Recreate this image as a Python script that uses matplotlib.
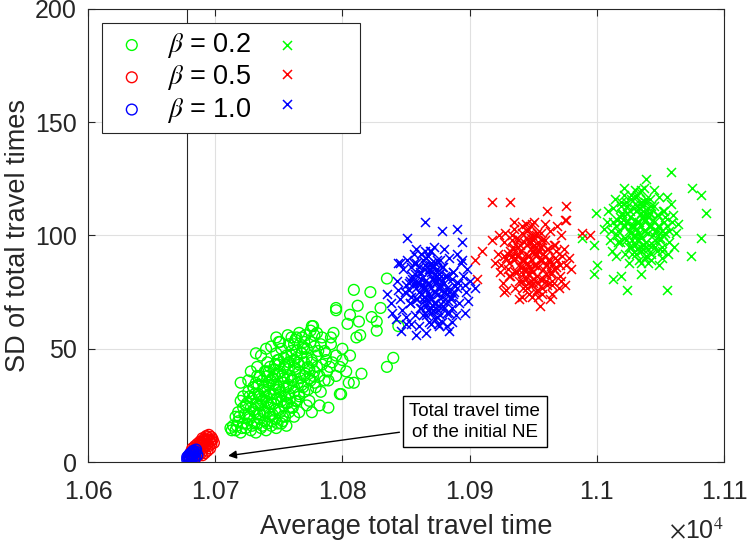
import matplotlib.pyplot as plt
from matplotlib.ticker import FuncFormatter

# beta = 0.2, circles
g_o_x = [10716, 10720, 10724, 10728, 10732, 10736, 10740, 10744, 10748, 10718, 10722, 10727, 10731, 10735, 10739, 10743, 10747, 10752, 10756, 10714,
         10718, 10722, 10726, 10730, 10734, 10738, 10742, 10746, 10750, 10754, 10758, 10762, 10720, 10725, 10729, 10733, 10737, 10741, 10745, 10749, 10753, 10757, 10761, 10766,
         10726, 10730, 10734, 10738, 10742, 10746, 10750, 10754, 10758, 10762, 10766, 10770, 10774, 10732, 10736, 10740, 10744, 10748, 10752, 10756, 10760, 10764, 10768, 10772, 10722,
         10735, 10739, 10743, 10747, 10751, 10755, 10759, 10763, 10767, 10771, 10775, 10779, 10741, 10749, 10757, 10765, 10773, 10777, 10783, 10733, 10745,
         10748, 10752, 10756, 10760, 10764, 10768, 10772, 10776, 10780, 10784, 10762, 10770, 10778, 10786, 10744, 10788, 10792,
         10740, 10748, 10757, 10766, 10775, 10784, 10791, 10795, 10798, 10789, 10782, 10776, 10728, 10720, 10732,
         10736, 10751, 10776, 10778, 10791, 10789, 10798, 10713,
         10835, 10809, 10822, 10812, 10795, 10795, 10806, 10830, 10823, 10827, 10813, 10804, 10827, 10814, 10811, 10777, 10780, 10760, 10844, 10840, 10835,
         10750, 10809, 10815, 10805, 10799, 10790, 10795, 10800, 10787, 10803, 10770, 10783, 10793, 10800, 10806, 10768,
         10717, 10721, 10725, 10729, 10733, 10737, 10741, 10745, 10749, 10753, 10719, 10723, 10727, 10731, 10735, 10739, 10743, 10747, 10751, 10755,
         10724, 10728, 10732, 10736, 10740, 10744, 10748, 10752, 10756, 10760, 10727, 10731, 10735, 10739, 10743, 10747, 10751, 10755, 10759, 10763,
         10730, 10734, 10738, 10742, 10746, 10750, 10754, 10758, 10762, 10766, 10737, 10741, 10745, 10749, 10753, 10757, 10761, 10765, 10769, 10773,
         10742, 10746, 10750, 10754, 10758, 10762, 10766, 10770, 10774, 10778, 10750, 10754, 10758, 10762, 10766, 10770, 10774, 10778, 10782, 10786,
         10760, 10764, 10768, 10772, 10776, 10780, 10758, 10763, 10769, 10775, 10781, 10787, 10726, 10733, 10740, 10747, 10764, 10771, 10712, 10716]
g_o_y = [14, 13, 15, 14, 13, 15, 14, 16, 15, 18, 17, 19, 17, 19, 18, 20, 19, 17, 16, 16,
         22, 24, 21, 23, 25, 22, 24, 26, 23, 25, 22, 20, 27, 26, 28, 21, 27, 26, 21, 28, 20, 26, 24, 22,
         31, 33, 30, 32, 34, 30, 32, 35, 30, 33, 29, 31, 27, 35, 28, 29, 36, 34, 29, 33, 36, 27, 34, 25, 29,
         38, 40, 42, 38, 40, 43, 38, 41, 37, 39, 36, 33, 44, 45, 41, 44, 42, 38, 31, 42, 37,
         48, 50, 47, 49, 46, 48, 50, 45, 47, 43, 52, 53, 51, 49, 51, 40, 44,
         50, 55, 56, 57, 58, 55, 52, 47, 42, 36, 25, 22, 40, 35, 48,
         47, 53, 60, 56, 55, 24, 30, 14,
         81, 76, 75, 69, 68, 67, 65, 68, 64, 62, 62, 61, 58, 56, 55, 60, 57, 55, 60, 46, 42,
         53, 35, 39, 35, 30, 42, 38, 45, 48, 40, 50, 52, 57, 50, 47, 55,
         16, 15, 17, 16, 17, 16, 17, 18, 17, 18, 20, 21, 20, 22, 21, 22, 21, 23, 22, 20,
         25, 24, 26, 25, 27, 26, 28, 27, 26, 24, 29, 30, 29, 31, 30, 32, 31, 29, 28, 27,
         33, 34, 33, 35, 34, 33, 37, 34, 31, 30, 36, 38, 37, 39, 38, 37, 36, 35, 33, 32,
         40, 41, 43, 42, 44, 42, 40, 38, 37, 35, 45, 46, 44, 45, 43, 44, 41, 40, 38, 36,
         47, 49, 48, 46, 44, 42, 52, 54, 51, 53, 49, 45, 36, 38, 40, 43, 55, 56, 15, 20]

# beta = 0.5, circles
r_o_x = [10680, 10681, 10682, 10683, 10684, 10685, 10686, 10687, 10688, 10689, 10690, 10691, 10692, 10693, 10694, 10695, 10696, 10697, 10694, 10691,
         10688, 10686, 10684, 10682, 10690, 10692, 10694, 10696, 10697, 10689, 10687, 10685, 10683, 10693, 10695, 10690, 10698, 10686, 10688, 10692,
         10681, 10683, 10685, 10687, 10689, 10691, 10693, 10695, 10697, 10699]
r_o_y = [2, 3, 2.5, 4, 3, 5, 4, 6, 5, 7, 6, 8, 7, 9, 8, 10, 9, 11, 11, 10,
         9, 8, 7, 6, 3, 4, 5, 6, 8, 4, 3, 2, 1.5, 11.5, 12, 10.5, 10, 6, 7.5, 9.5,
         4.5, 5.5, 6.5, 7.5, 8.5, 9, 10, 7, 9.5, 8.5]

# beta = 1.0, circles
b_o_x = [10678, 10679, 10680, 10681, 10682, 10683, 10684, 10685, 10680, 10682, 10684, 10679, 10681, 10683, 10686, 10685, 10678, 10682, 10680, 10684]
b_o_y = [1, 1.5, 2, 2.5, 3, 3.5, 4, 4.5, 1, 1.8, 2.5, 2.8, 3.8, 5, 3, 5.5, 2.2, 4.5, 3.5, 1.5]

# beta = 0.2, crosses
g_x_x = [11035, 11030, 11040, 11025, 11045, 11033, 11037, 11020, 11050, 11027, 11043, 11015, 11055, 11031, 11039, 11023, 11047, 11010, 11060, 11036,
         11029, 11041, 11024, 11046, 11032, 11038, 11018, 11052, 11026, 11044, 11034, 11022, 11049, 11013, 11057, 11028, 11042, 11031, 11039, 11035,
         11035, 11017, 11053, 11021, 11051, 11008, 11062, 11033, 11037, 11025, 11045, 11012, 11058, 11030, 11040, 11023, 11047, 11019, 11051, 11027,
         11043, 11015, 11055, 11009, 11061, 11038, 11032, 11036, 11034, 11048, 11022,
         11058, 11075, 11082, 11086, 11039, 11024, 11055, 11013, 10998, 11000, 10998, 10999, 11082, 11074, 10988, 11035, 11019,
         11028, 11042, 11033, 11037, 11021, 11049, 11030, 11040, 11026, 11044, 11016, 11054, 11035, 11035, 11024, 11046, 11019, 11051, 11031, 11039,
         11029, 11041, 11013, 11057, 11034, 11036, 11022, 11048, 11027, 11043, 11032, 11038, 11018, 11052, 11025, 11045, 11011, 11059, 11030, 11040,
         11036, 11034, 11020, 11050, 11028, 11042, 11014, 11056, 11033, 11037, 11023, 11047, 11026, 11044, 11017, 11053, 11031, 11039, 11029, 11041,
         11006, 11064, 11021, 11049, 11035, 11035, 11027, 11043, 11038, 11032, 11016, 11054, 11024, 11046, 11030, 11040, 11019, 11051, 11034, 11036]
g_x_y = [104, 107, 101, 102, 106, 112, 96, 109, 99, 95, 113, 104, 104, 117, 91, 115, 93, 98, 109, 108,
         100, 110, 106, 102, 94, 115, 97, 111, 111, 96, 119, 92, 117, 112, 97, 104, 104, 103, 107, 99,
         110, 102, 106, 118, 90, 106, 101, 89, 121, 88, 120, 93, 114, 114, 94, 98, 109, 113, 95, 118,
         89, 91, 117, 111, 95, 102, 106, 113, 95, 104, 104,
         128, 121, 118, 110, 125, 76, 76, 81, 83, 87, 96, 110, 99, 91, 99, 83, 82,
         98, 110, 101, 107, 104, 104, 96, 112, 108, 100, 100, 108, 93, 115, 110, 98, 115, 93, 111, 97,
         104, 104, 106, 102, 100, 108, 99, 109, 116, 92, 118, 90, 108, 100, 95, 113, 102, 106, 120, 88,
         96, 112, 110, 98, 92, 116, 116, 92, 106, 102, 106, 102, 101, 107, 97, 111, 92, 116, 112, 96,
         103, 105, 121, 87, 88, 120, 104, 104, 110, 98, 107, 101, 113, 95, 100, 108, 106, 102, 114, 94]

# beta = 0.5, crosses
r_x_x = [10949, 10944, 10954, 10939, 10959, 10947, 10951, 10934, 10964, 10941, 10957, 10929, 10969, 10945, 10953, 10937, 10961, 10924, 10974, 10950,
         10943, 10955, 10938, 10960, 10946, 10952, 10932, 10966, 10940, 10958, 10948, 10936, 10963, 10927, 10971, 10942, 10956, 10945, 10953, 10949,
         10949, 10931, 10967, 10935, 10965, 10922, 10976, 10947, 10951, 10939, 10959, 10926, 10972, 10944, 10954, 10937, 10961, 10933, 10965, 10941,
         10957, 10929, 10969, 10923, 10975, 10952, 10946, 10950, 10948, 10962, 10936,
         10918, 10932, 10976, 10961, 10975, 10988, 10918, 10910, 10904, 10906, 10955, 10941, 10927, 10980, 10995, 10976, 10972,
         10942, 10956, 10947, 10951, 10935, 10963, 10944, 10954, 10940, 10958, 10930, 10968, 10949, 10949, 10938, 10960, 10933, 10965, 10945, 10953,
         10943, 10955, 10927, 10971, 10948, 10950, 10936, 10962, 10941, 10957, 10946, 10952, 10932, 10966, 10939, 10959, 10925, 10973, 10944, 10954,
         10950, 10948, 10934, 10964, 10942, 10956, 10928, 10970, 10947, 10951, 10937, 10961, 10940, 10958, 10931, 10967, 10945, 10953, 10943, 10955,
         10920, 10978, 10935, 10963, 10949, 10949, 10941, 10957, 10952, 10946, 10930, 10968, 10938, 10960, 10944, 10954, 10933, 10965, 10948, 10950]
r_x_y = [89, 92, 86, 87, 91, 97, 81, 94, 84, 80, 98, 90, 89, 102, 76, 99, 78, 84, 94, 93,
         85, 95, 91, 87, 79, 100, 82, 96, 96, 81, 104, 77, 102, 97, 82, 89, 89, 88, 92, 84,
         95, 88, 90, 103, 74, 92, 87, 74, 106, 72, 105, 79, 100, 99, 79, 84, 94, 98, 80, 104,
         74, 76, 104, 100, 78, 87, 91, 98, 80, 89, 90,
         115, 115, 113, 111, 107, 101, 98, 93, 89, 81, 69, 73, 75, 85, 100, 107, 80,
         83, 95, 86, 92, 89, 89, 81, 97, 93, 85, 85, 93, 78, 100, 95, 83, 100, 78, 96, 82,
         89, 89, 91, 87, 85, 93, 84, 94, 101, 77, 103, 75, 93, 85, 80, 98, 87, 91, 105, 73,
         81, 97, 95, 83, 77, 101, 101, 77, 91, 87, 91, 87, 86, 92, 82, 96, 77, 101, 97, 81,
         88, 90, 106, 72, 73, 105, 89, 89, 95, 83, 92, 86, 98, 80, 85, 93, 91, 87, 99, 79]

# beta = 1.0, crosses
b_x_x = [10870, 10865, 10875, 10860, 10880, 10868, 10872, 10855, 10885, 10862, 10878, 10850, 10890, 10866, 10874, 10858, 10882, 10845, 10895, 10871,
         10864, 10876, 10859, 10881, 10867, 10873, 10853, 10887, 10861, 10879, 10869, 10857, 10884, 10848, 10892, 10863, 10877, 10866, 10874, 10870,
         10870, 10852, 10888, 10856, 10886, 10843, 10897, 10868, 10872, 10860, 10880, 10847, 10893, 10865, 10875, 10858, 10882, 10854, 10886, 10862,
         10878, 10850, 10890, 10844, 10896, 10873, 10867, 10871, 10869,
         10865, 10851, 10878, 10890, 10894, 10845, 10835, 10839, 10876, 10854, 10904, 10894,
         10838, 10842, 10846, 10850, 10858, 10866, 10884, 10898, 10900, 10899,
         10864, 10876, 10868, 10872, 10858, 10882, 10866, 10874, 10862, 10878, 10854, 10886, 10870, 10870, 10861, 10879, 10856, 10884, 10867, 10873,
         10865, 10875, 10852, 10888, 10869, 10871, 10859, 10881, 10863, 10877, 10867, 10873, 10855, 10885, 10861, 10879, 10849, 10891, 10865, 10875,
         10871, 10869, 10857, 10883, 10863, 10877, 10851, 10889, 10868, 10872, 10860, 10880, 10862, 10878, 10853, 10887, 10866, 10874, 10864, 10876,
         10844, 10896, 10858, 10882, 10870, 10870, 10863, 10877, 10873, 10867, 10853, 10887, 10860, 10880, 10865, 10875, 10856, 10884, 10869, 10871]
b_x_y = [77, 80, 74, 75, 79, 85, 70, 82, 72, 68, 86, 78, 77, 90, 64, 88, 66, 72, 82, 81,
         73, 83, 79, 75, 67, 88, 70, 84, 84, 69, 93, 65, 90, 85, 70, 78, 78, 76, 80, 72,
         84, 76, 78, 92, 62, 80, 75, 62, 95, 60, 94, 67, 88, 87, 67, 72, 82, 86, 68, 92,
         62, 64, 92, 88, 66, 75, 79, 86, 68,
         106, 99, 102, 103, 97, 88, 74, 66, 60, 61, 77, 89,
         70, 63, 58, 61, 56, 57, 58, 85, 80, 71,
         71, 83, 74, 80, 77, 77, 69, 85, 81, 73, 73, 81, 66, 88, 83, 71, 88, 66, 84, 70,
         77, 77, 79, 75, 73, 81, 72, 82, 89, 65, 91, 63, 81, 73, 68, 86, 75, 79, 93, 61,
         69, 85, 83, 71, 65, 89, 89, 65, 79, 75, 79, 75, 74, 80, 70, 84, 65, 89, 85, 69,
         76, 78, 94, 60, 61, 93, 77, 77, 83, 71, 80, 74, 86, 68, 73, 81, 79, 75, 87, 67]

initial_ne = 10677.6
labels = [r'$\beta$ = 0.2', r'$\beta$ = 0.5', r'$\beta$ = 1.0']
colors = [(0, 1, 0), (1, 0, 0), (0, 0, 1)]

plt.rcParams['font.family'] = ['Liberation Sans', 'DejaVu Sans']
plt.rcParams['mathtext.fontset'] = 'stix'

fig = plt.figure(figsize=(7.47, 5.44), dpi=100)
ax = fig.add_axes([0.1178, 0.1507, 0.8514, 0.8328])

circles = []
for xs, ys, c in [(g_o_x, g_o_y, colors[0]), (r_o_x, r_o_y, colors[1]), (b_o_x, b_o_y, colors[2])]:
    h = ax.scatter(xs, ys, s=60, facecolors='none', edgecolors=[c], linewidths=1.0, zorder=3)
    circles.append(h)
crosses = []
for xs, ys, c in [(g_x_x, g_x_y, colors[0]), (r_x_x, r_x_y, colors[1]), (b_x_x, b_x_y, colors[2])]:
    h = ax.scatter(xs, ys, s=42, marker='x', color=c, linewidths=1.1, zorder=3)
    crosses.append(h)

ax.axvline(initial_ne, color='0.15', lw=0.8, zorder=2)

ax.annotate('Total travel time\nof the initial NE', xy=(10708, 2.6), xytext=(10904, 17.7),
            ha='center', va='center', fontsize=13.5, linespacing=1.3,
            bbox=dict(boxstyle='square,pad=0.35', fc='white', ec='black', lw=1.0),
            arrowprops=dict(arrowstyle='-|>', color='black', lw=1.0, mutation_scale=12),
            zorder=5)

ax.set_xlim(10600, 11100)
ax.set_ylim(0, 200)
ax.set_xticks(range(10600, 11101, 100))
ax.set_yticks(range(0, 201, 50))
ax.xaxis.set_major_formatter(FuncFormatter(lambda v, p: '%g' % (v / 1e4)))
ax.grid(True, color='0.88', lw=0.8)
ax.set_axisbelow(True)
ax.tick_params(direction='in', labelsize=18, colors='0.15', length=5, top=True, right=True)
ax.tick_params(axis='x', pad=13)
ax.tick_params(axis='y', pad=8)
for sp in ax.spines.values():
    sp.set_color('0.15')
    sp.set_linewidth(0.8)
ax.set_xlabel('Average total travel time', fontsize=19.5, color='0.15', labelpad=7)
ax.set_ylabel('SD of total travel times', fontsize=19.5, color='0.15', labelpad=3)
fig.text(724 / 747, 6 / 544, r'$\times$10$^4$', ha='right', va='baseline', fontsize=18, color='0.15')

leg = ax.legend(circles + crosses, labels + ['    ', '    ', '    '], ncol=2, loc='upper left',
                bbox_to_anchor=(0.022, 0.969), borderaxespad=0, fontsize=19.5, frameon=True,
                fancybox=False, edgecolor='0.15', framealpha=1, handletextpad=0.5,
                columnspacing=0.5, labelspacing=0.12, borderpad=0.3, handlelength=1.6)
leg.get_frame().set_linewidth(0.8)

fig.savefig('out.png', dpi=100)
